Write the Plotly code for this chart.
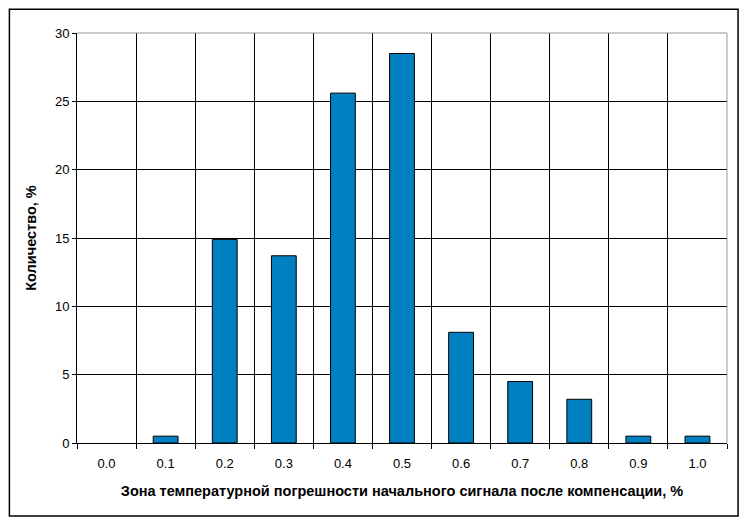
import plotly.graph_objects as go

categories = ['0.0', '0.1', '0.2', '0.3', '0.4', '0.5', '0.6', '0.7', '0.8', '0.9', '1.0']
values = [0, 0.5, 14.9, 13.7, 25.6, 28.5, 8.1, 4.5, 3.2, 0.5, 0.5]

FONT = 'Liberation Sans, Arial'

fig = go.Figure()

fig.add_trace(go.Bar(
    x=categories, y=values,
    marker=dict(color='#0080c0',
                line=dict(color='#000000', width=[0 if v == 0 else 1 for v in values])),
    width=0.42,
))

# outer chart frame
fig.add_shape(type='rect', xref='paper', yref='paper',
              x0=-0.104, x1=1.017, y0=-0.178, y1=1.058,
              line=dict(color='#000000', width=1.5), layer='below')

fig.update_xaxes(
    type='category', tickson='boundaries', showgrid=True,
    gridcolor='#000000', gridwidth=1,
    ticks='outside', ticklen=5, tickcolor='#000000',
    ticklabelstandoff=8,
    showline=True, linecolor='#000000', linewidth=1,
    tickfont=dict(family=FONT, size=13, color='#000000'),
    title=dict(text='<b>Зона температурной погрешности начального сигнала после компенсации, %</b>',
               font=dict(family=FONT, size=14.5, color='#000000'),
               standoff=16),
)

fig.update_yaxes(
    range=[0, 30], dtick=5, showgrid=True,
    gridcolor='#000000', gridwidth=1,
    ticks='outside', ticklen=4, tickcolor='#000000',
    showline=True, linecolor='#000000', linewidth=1,
    zeroline=False,
    tickfont=dict(family=FONT, size=13, color='#000000'),
    title=dict(text='<b>Количество, %</b>',
               font=dict(family=FONT, size=14.5, color='#000000'),
               standoff=14),
)

# grey border on top and right of plot area
fig.add_shape(type='line', xref='paper', yref='paper', x0=0, x1=1, y0=1, y1=1,
              line=dict(color='#999999', width=1))
fig.add_shape(type='line', xref='paper', yref='paper', x0=1, x1=1, y0=0, y1=1,
              line=dict(color='#999999', width=1))

fig.update_layout(
    width=742, height=520,
    margin=dict(l=69, r=23, t=25, b=85),
    paper_bgcolor='#ffffff', plot_bgcolor='#ffffff',
    showlegend=False,
)

fig.write_html("out.html")
